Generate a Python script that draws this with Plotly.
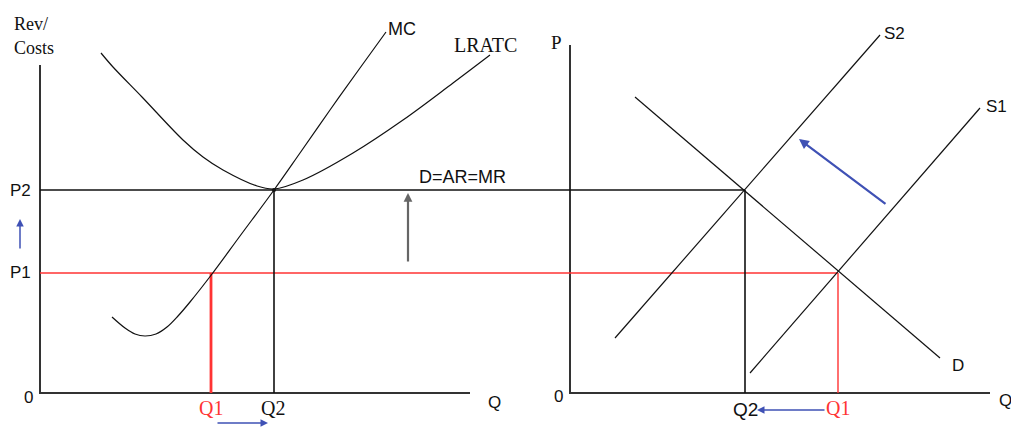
import plotly.graph_objects as go

# ---- data (diagram coordinates, y grows downward) ----
# Left panel: firm
mc_x = [112, 125, 135, 145, 156, 167, 178, 190, 212, 240, 274, 300, 330, 360, 386]
mc_y = [317, 328, 334, 336, 334, 327, 316, 302, 274, 236, 190, 153, 110, 68, 32]
lratc_x = [101, 113, 142, 183, 203, 223, 257, 274, 303, 353, 403, 453, 490]
lratc_y = [53, 67, 97, 140, 157, 170, 186, 189, 180, 153, 120, 83, 55]

# Price / quantity levels
p2_level = 190
p1_level = 273
q1_firm, q2_firm = 211, 274
q1_ind, q2_ind = 838, 745

# Right panel: industry
d_x = [635, 940]
d_y = [97, 358]
s1_x = [750, 980]
s1_y = [373, 108]
s2_x = [615, 880]
s2_y = [338, 35]

# Axes
left_origin = (40, 393)
left_xend, left_ytop = 470, 65
right_origin = (570, 393)
right_xend, right_ytop = 990, 45

BLACK = "#111111"
AXIS = "#333333"
RED = "#ff3333"
BLUE = "#3f51b5"
GRAY = "#666666"
SERIF = "Liberation Serif, Times New Roman, serif"
SANS = "Liberation Sans, Arial, sans-serif"

fig = go.Figure()

def line(xs, ys, color=BLACK, width=1.2, shape="linear"):
    fig.add_trace(go.Scatter(x=xs, y=ys, mode="lines", line=dict(color=color, width=width, shape=shape),
                             hoverinfo="skip", showlegend=False))

# Axes
line([left_origin[0], left_origin[0], left_xend], [left_ytop, left_origin[1], left_origin[1]], AXIS, 2)
line([right_origin[0], right_origin[0], right_xend], [right_ytop, right_origin[1], right_origin[1]], AXIS, 2)

# Price lines
line([left_origin[0], q2_ind], [p2_level, p2_level], BLACK, 1.6)
line([left_origin[0], q1_ind], [p1_level, p1_level], RED, 1.6)

# Vertical drops
line([q1_firm, q1_firm], [p1_level, left_origin[1]], RED, 2.8)
line([q2_firm, q2_firm], [p2_level, left_origin[1]], BLACK, 1.6)
line([q2_ind, q2_ind], [p2_level, right_origin[1]], BLACK, 1.6)
line([q1_ind, q1_ind], [p1_level, right_origin[1]], RED, 1.4)

# Curves
line(mc_x, mc_y, BLACK, 1.2, "spline")
line(lratc_x, lratc_y, BLACK, 1.2, "spline")
line(d_x, d_y)
line(s1_x, s1_y)
line(s2_x, s2_y)

# Point at tangency
fig.add_trace(go.Scatter(x=[q2_firm], y=[p2_level], mode="markers", marker=dict(color=BLACK, size=4),
                         hoverinfo="skip", showlegend=False))

def text(x, y, s, font=SANS, size=16, color=BLACK, xanchor="center", yanchor="middle"):
    fig.add_annotation(x=x, y=y, text=s, showarrow=False, xref="x", yref="y",
                       font=dict(family=font, size=size, color=color), xanchor=xanchor, yanchor=yanchor)

def arrow(x0, y0, x1, y1, color, width=1.5, size=1.0):
    fig.add_annotation(x=x1, y=y1, ax=x0, ay=y0, xref="x", yref="y", axref="x", ayref="y",
                       text="", showarrow=True, arrowhead=2, arrowsize=size, arrowwidth=width,
                       arrowcolor=color)

# Labels
text(12, 24, "Rev/", SERIF, 18, xanchor="left")
text(12, 48, "Costs", SERIF, 18, xanchor="left")
text(20, 190, "P2", SANS, 17)
text(20, 272, "P1", SANS, 17)
text(28, 397, "0", SANS, 17)
text(494, 402, "Q", SANS, 17)
text(211, 408, "Q1", SERIF, 20, RED)
text(273, 408, "Q2", SERIF, 20, BLACK)
text(386, 29, "MC", SANS, 18, xanchor="left")
text(452, 45, "LRATC", SERIF, 20, xanchor="left")
text(462, 177, "D=AR=MR", SANS, 18)

text(556, 42, "P", SERIF, 19)
text(558, 396, "0", SANS, 17)
text(997, 400, "Q", SANS, 17, xanchor="left")
text(745, 409, "Q2", SANS, 19, BLACK)
text(838, 408, "Q1", SERIF, 20, RED)
text(950, 365, "D", SANS, 17, xanchor="left")
text(984, 106, "S1", SANS, 17, xanchor="left")
text(882, 33, "S2", SANS, 17, xanchor="left")

# Arrows
arrow(20, 250, 20, 219, BLUE, 1.5, 1.0)
arrow(216, 423, 268, 423, BLUE, 1.5, 1.0)
arrow(408, 263, 408, 193, GRAY, 2.2, 0.8)
arrow(826, 410, 757, 410, BLUE, 1.5, 1.0)
arrow(887, 205, 799, 139, BLUE, 2.2, 0.9)

fig.update_layout(
    width=1011, height=427,
    margin=dict(l=0, r=0, t=0, b=0),
    paper_bgcolor="white", plot_bgcolor="white",
    xaxis=dict(range=[0, 1011], visible=False, fixedrange=True),
    yaxis=dict(range=[427, 0], visible=False, fixedrange=True),
    showlegend=False,
)

fig.write_html("out.html", config={"displayModeBar": False},
               post_script="document.body.style.margin='0';document.body.style.overflow='hidden';")
